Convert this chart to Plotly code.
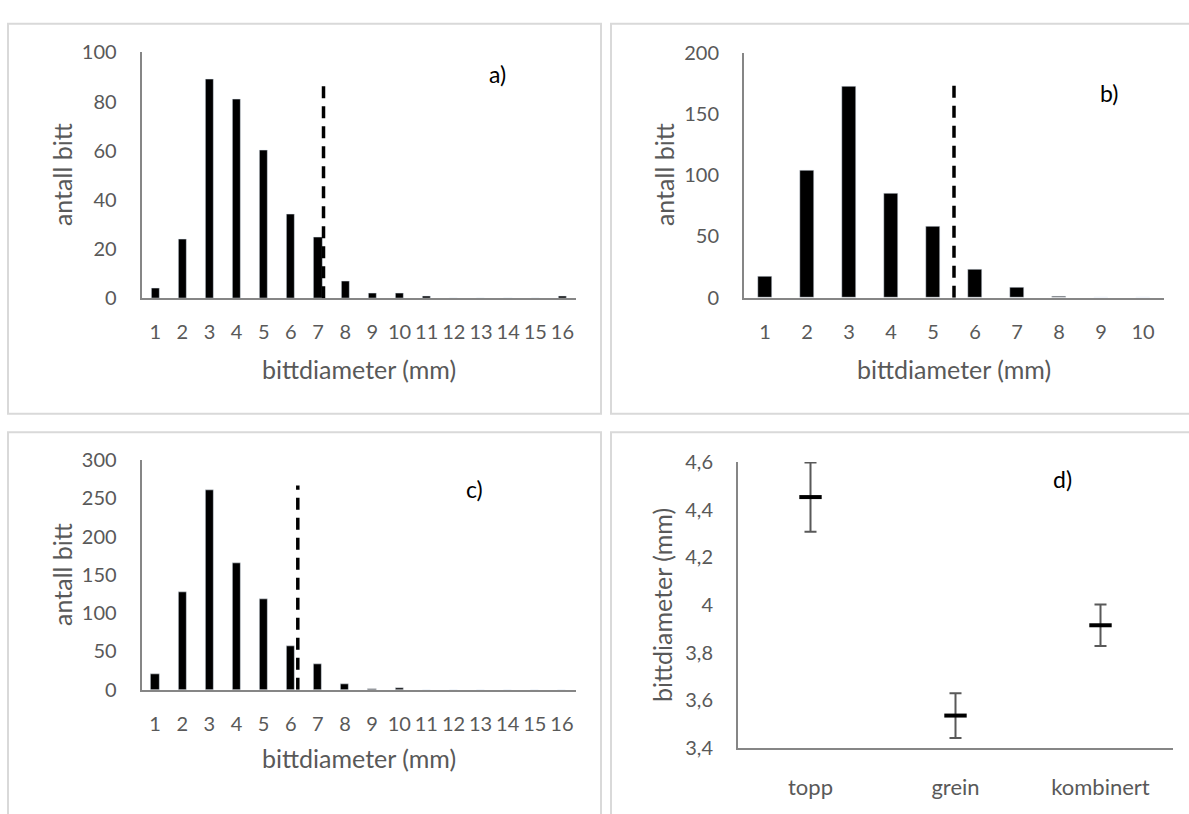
import plotly.graph_objects as go

# ---------------- data ----------------
diam_a = list(range(1, 17))
count_a = [4, 24, 89, 81, 60, 34, 25, 7, 2, 2, 1, 0, 0, 0, 0, 1]
cut_a = 7.2
cut_a_top = 89.5

diam_b = list(range(1, 11))
count_b = [17, 104, 172, 85, 58, 23, 8, 1, 0, 0]
cut_b = 5.5
cut_b_top = 173

diam_c = list(range(1, 17))
count_c = [21, 128, 261, 166, 118, 57, 33, 8, 1, 2, 0, 0, 0, 0, 0, 0]
cut_c = 6.26
cut_c_top = 267

groups_d = ["topp", "grein", "kombinert"]
mean_d = [4.453, 3.536, 3.915]
err_d = [0.145, 0.094, 0.087]
ticks_d = [3.4, 3.6, 3.8, 4.0, 4.2, 4.4, 4.6]
ticktext_d = ["3,4", "3,6", "3,8", "4", "4,2", "4,4", "4,6"]

x_title = "bittdiameter (mm)"
y_title = "antall bitt"
panel_labels = ["a)", "b)", "c)", "d)"]

# ---------------- layout helpers ----------------
W, H = 1189, 814
def px(x):
    return x / W
def py(y):
    return 1 - y / H

FONT = "Lato"
TICK_COL = "#595959"
AXIS_COL = "#868686"
TICK_SIZE = 20
TITLE_SIZE = 25
LABEL_SIZE = 23

fig = go.Figure()

fig.add_trace(go.Bar(x=diam_a, y=count_a, width=0.3, marker_color="black",
                     xaxis="x", yaxis="y", showlegend=False))
fig.add_trace(go.Bar(x=diam_b, y=count_b, width=0.31, marker_color="black",
                     xaxis="x2", yaxis="y2", showlegend=False))
fig.add_trace(go.Bar(x=diam_c, y=count_c, width=0.3, marker_color="black",
                     xaxis="x3", yaxis="y3", showlegend=False))
fig.add_trace(go.Scatter(x=groups_d, y=mean_d, mode="markers",
                         marker=dict(symbol="line-ew", size=16,
                                     line=dict(width=4, color="black")),
                         error_y=dict(type="data", array=err_d, visible=True,
                                      color="#595959", thickness=2, width=6),
                         xaxis="x4", yaxis="y4", showlegend=False))

dash = dict(color="black", width=3.5, dash="12px,8px")
for (xr, yr, xv, top) in [("x", "y", cut_a, cut_a_top),
                          ("x2", "y2", cut_b, cut_b_top),
                          ("x3", "y3", cut_c, cut_c_top)]:
    fig.add_shape(type="line", xref=xr, yref=yr, x0=xv, x1=xv, y0=0, y1=top,
                  line=dash, layer="above")

def xaxis(dom, n=None):
    d = dict(domain=dom, showline=True, linecolor=AXIS_COL, linewidth=2,
             showgrid=False, zeroline=False, ticks="",
             tickfont=dict(family=FONT, size=TICK_SIZE, color=TICK_COL),
             ticklabelstandoff=15, fixedrange=True)
    if n:
        d.update(range=[0.5, n + 0.5], tickmode="array",
                 tickvals=list(range(1, n + 1)))
    return d

def yaxis(dom, rng, dt):
    return dict(domain=dom, range=rng, dtick=dt, tick0=0, showline=True,
                linecolor=AXIS_COL, linewidth=2, showgrid=False,
                zeroline=False, ticks="",
                tickfont=dict(family=FONT, size=TICK_SIZE, color=TICK_COL),
                ticklabelstandoff=19, fixedrange=True)

# plot area pixel boxes: (left, right, top, bottom)
A = (141.6, 576.0, 40.5, 294.0)
B = (744.0, 1164.0, 40.7, 293.3)
C = (141.6, 575.5, 460.7, 697.3)
D = (738.0, 1173.0, 462.7, 757.3)

def xdom(b):
    return [px(b[0]), px(b[1])]
def ydom(b):
    return [py(b[3]), py(b[2])]

yd = yaxis(ydom(D), [3.4, 4.6], 0.2)
yd.update(tickmode="array", tickvals=ticks_d, ticktext=ticktext_d)
xd = xaxis(xdom(D))
xd.update(range=[-0.5, 2.5], ticklabelstandoff=19,
          tickfont=dict(family=FONT, size=22, color=TICK_COL))

fig.update_layout(
    width=W, height=H, margin=dict(l=0, r=0, t=0, b=0),
    paper_bgcolor="white", plot_bgcolor="white",
    separators=", ",
    font=dict(family=FONT, color=TICK_COL),
    xaxis=xaxis(xdom(A), 16), yaxis=yaxis(ydom(A), [0, 100], 20),
    xaxis2=xaxis(xdom(B), 10), yaxis2=yaxis(ydom(B), [0, 200], 50),
    xaxis3=xaxis(xdom(C), 16), yaxis3=yaxis(ydom(C), [0, 300], 50),
    xaxis4=xd, yaxis4=yd,
    bargap=0,
)
for ax in ["yaxis", "yaxis2", "yaxis3", "yaxis4"]:
    fig.layout[ax].anchor = ax.replace("yaxis", "x")
for ax in ["xaxis", "xaxis2", "xaxis3", "xaxis4"]:
    fig.layout[ax].anchor = ax.replace("xaxis", "y")

BORDER = "#d9d9d9"
for (x0, y0, x1, y1) in [(8, 11, 601, 413), (611, 11, 1195, 413),
                         (8, 432, 601, 830), (611, 432, 1195, 830)]:
    fig.add_shape(type="rect", xref="paper", yref="paper",
                  x0=px(x0), x1=px(x1), y0=py(y1), y1=py(y0),
                  line=dict(color=BORDER, width=2), fillcolor="rgba(0,0,0,0)",
                  layer="below")

def ann(x, y, text, size, color=TICK_COL, angle=0):
    fig.add_annotation(x=px(x), y=py(y), xref="paper", yref="paper",
                       text=text, showarrow=False, textangle=angle,
                       font=dict(family=FONT, size=size, color=color),
                       xanchor="center", yanchor="middle")

ann(358.8, 367, x_title, TITLE_SIZE)
ann(954.0, 367, x_title, TITLE_SIZE)
ann(358.5, 768, x_title, TITLE_SIZE)
ann(62, 167, y_title, TITLE_SIZE, angle=-90)
ann(664, 167, y_title, TITLE_SIZE, angle=-90)
ann(62, 579, y_title, TITLE_SIZE, angle=-90)
ann(662, 610, x_title, TITLE_SIZE, angle=-90)

ann(497.5, 63, panel_labels[0], LABEL_SIZE, color="black")
ann(1109, 82.5, panel_labels[1], LABEL_SIZE, color="black")
ann(474.5, 490, panel_labels[2], LABEL_SIZE, color="black")
ann(1062, 480, panel_labels[3], LABEL_SIZE, color="black")

fig.write_html("out.html")
